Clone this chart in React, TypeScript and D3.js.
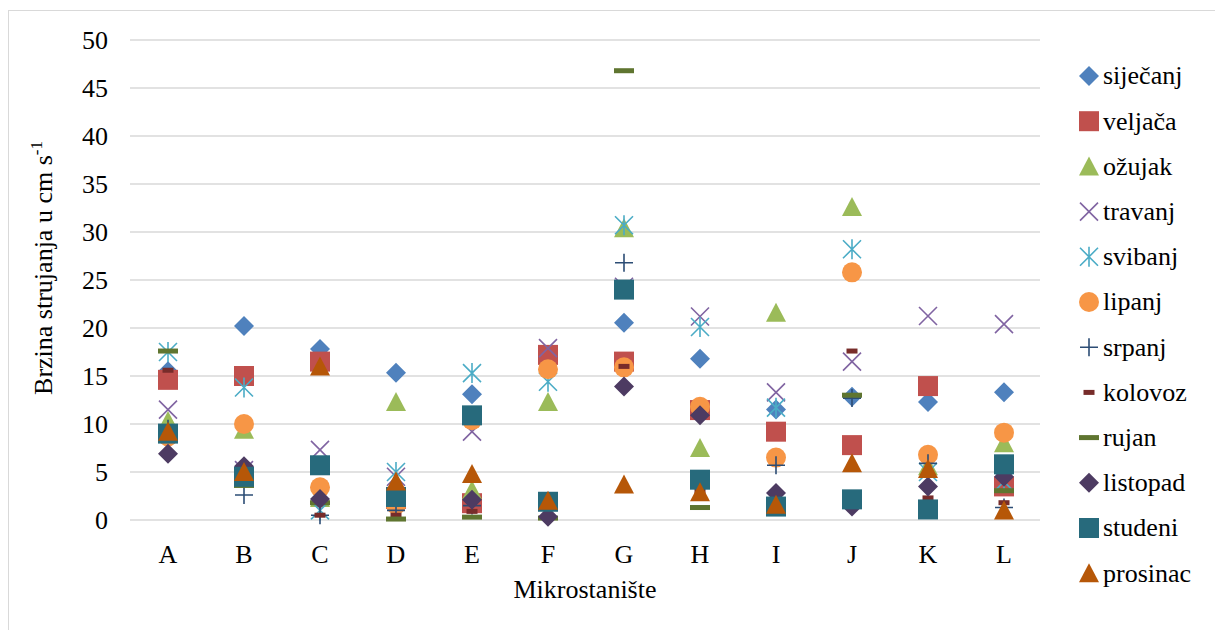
import React from "react";
import * as d3 from "d3";

const categories = ["A", "B", "C", "D", "E", "F", "G", "H", "I", "J", "K", "L"];
const yTicks = [0, 5, 10, 15, 20, 25, 30, 35, 40, 45, 50];

const sijecanj = [15.5, 20.2, 17.8, 15.35, 13.1, 16.5, 20.55, 16.8, 11.5, 12.85, 12.3, 13.3];
const veljaca = [14.6, 15.0, 16.5, 2.2, 1.75, 17.2, 16.5, 11.45, 9.2, 7.8, 13.95, 3.5];
const ozujak = [10.3, 9.4, 2.3, 12.3, 3.1, 12.3, 30.4, 7.5, 21.6, 32.6, 5.6, 8.0];
const travanj = [11.5, 5.2, 7.3, 4.5, 9.2, 17.9, 24.3, 21.2, 13.3, 16.5, 21.25, 20.4];
const svibanj = [17.5, 13.8, 1.0, 5.0, 15.3, 14.4, 30.7, 20.1, 11.7, 28.2, 5.0, 4.0];
const lipanj = [8.7, 10.0, 3.4, 1.6, 10.4, 15.7, 15.9, 11.8, 6.5, 25.8, 6.8, 9.1];
const srpanj = [9.5, 2.6, 0.5, 1.0, 1.5, 1.5, 26.8, 3.5, 5.7, 12.7, 5.9, 1.3];
const kolovoz = [15.6, 4.5, 0.5, 0.5, 0.9, 1.5, 16.0, 3.0, 1.0, 17.6, 2.3, 1.8];
const rujan = [17.6, 3.6, 1.8, 0.1, 0.3, 0.2, 46.8, 1.3, 1.0, 13.0, 1.0, 3.05];
const listopad = [6.9, 5.6, 2.2, 3.0, 2.1, 0.35, 13.9, 10.9, 2.8, 1.4, 3.5, 4.5];
const studeni = [9.0, 4.5, 5.7, 2.4, 10.9, 1.9, 24.0, 4.2, 1.4, 2.15, 1.1, 5.8];
const prosinac = [9.2, 5.0, 16.0, 4.0, 4.8, 2.0, 3.7, 2.9, 1.6, 5.9, 5.3, 1.0];

const seriesNames = ["siječanj", "veljača", "ožujak", "travanj", "svibanj", "lipanj", "srpanj", "kolovoz", "rujan", "listopad", "studeni", "prosinac"];
const seriesValues = [sijecanj, veljaca, ozujak, travanj, svibanj, lipanj, srpanj, kolovoz, rujan, listopad, studeni, prosinac];
const seriesColors = ["#4F81BD", "#C0504D", "#9BBB59", "#8064A2", "#4BACC6", "#F79646", "#2C4D75", "#772C2A", "#5F7530", "#4D3B62", "#276A7C", "#B65708"];
const seriesShapes = ["diamond", "square", "triangle", "x", "star", "circle", "plus", "shortdash", "longdash", "diamond", "square", "triangle"];

const W = 1215;
const H = 630;
const plotLeft = 130;
const plotRight = 1042;
const plotTop = 40;
const plotBottom = 520;
const FONT = "Liberation Serif, DejaVu Serif, serif";
const txt = { fontFamily: FONT };
const FS = 26;

function Marker({ shape, color, x, y }: { shape: string; color: string; x: number; y: number }) {
  const t = `translate(${x},${y})`;
  switch (shape) {
    case "diamond":
      return <path transform={t} d="M0,-10L10,0L0,10L-10,0Z" fill={color} />;
    case "square":
      return <rect x={x - 10} y={y - 10} width={20} height={20} fill={color} />;
    case "triangle":
      return <path transform={t} d="M0,-10L10,9L-10,9Z" fill={color} />;
    case "circle":
      return <circle cx={x} cy={y} r={10} fill={color} />;
    case "x":
      return <path transform={t} d="M-9,-9L9,9M9,-9L-9,9" stroke={color} strokeWidth={1.6} fill="none" />;
    case "star":
      return <path transform={t} d="M-9,-9L9,9M9,-9L-9,9M0,-10L0,10" stroke={color} strokeWidth={1.6} fill="none" />;
    case "plus":
      return <path transform={t} d="M-9,0L9,0M0,-9L0,9" stroke={color} strokeWidth={1.6} fill="none" />;
    case "shortdash":
      return <rect x={x - 5.5} y={y - 2.5} width={11} height={5} fill={color} />;
    case "longdash":
      return <rect x={x - 10} y={y - 2.5} width={20} height={5} fill={color} />;
    default:
      return null;
  }
}

export default function App() {
  const x = d3.scaleBand<string>().domain(categories).range([plotLeft, plotRight]);
  const y = d3.scaleLinear().domain([0, 50]).range([plotBottom, plotTop]);
  const cx = (c: string) => (x(c) as number) + x.bandwidth() / 2;

  return (
    <svg width={W} height={H} style={{ position: "absolute", left: 0, top: 0, background: "#fff" }}>
      <rect x={8.5} y={10.5} width={W} height={H} fill="#fff" stroke="#D9D9D9" strokeWidth={1} />
      {yTicks.map((t) => (
        <g key={t}>
          <line x1={plotLeft} x2={plotRight - 2} y1={y(t)} y2={y(t)} stroke="#D9D9D9" strokeWidth={1.3} />
          <text x={108} y={y(t)} dy="0.34em" textAnchor="end" fontSize={FS} fill="#000" style={txt}>{t}</text>
        </g>
      ))}
      {categories.map((c) => (
        <text key={c} x={cx(c)} y={563} textAnchor="middle" fontSize={FS} fill="#000" style={txt}>{c}</text>
      ))}
      {seriesValues.map((vals, si) => (
        <g key={seriesNames[si]}>
          {vals.map((v, i) => (
            <Marker key={i} shape={seriesShapes[si]} color={seriesColors[si]} x={cx(categories[i])} y={y(v)} />
          ))}
        </g>
      ))}
      <text x={585} y={598} textAnchor="middle" fontSize={FS} fill="#000" style={txt}>Mikrostanište</text>
      <text transform="translate(52,268) rotate(-90)" textAnchor="middle" fontSize={FS} fill="#000" style={txt}>
        Brzina strujanja u cm s<tspan dy={-10} fontSize={17}>-1</tspan>
      </text>
      {seriesNames.map((n, i) => {
        const ly = 76 + i * 45.2;
        return (
          <g key={n}>
            <Marker shape={seriesShapes[i]} color={seriesColors[i]} x={1089} y={ly} />
            <text x={1103} y={ly} dy="0.32em" fontSize={FS} fill="#000" style={txt}>{n}</text>
          </g>
        );
      })}
    </svg>
  );
}
